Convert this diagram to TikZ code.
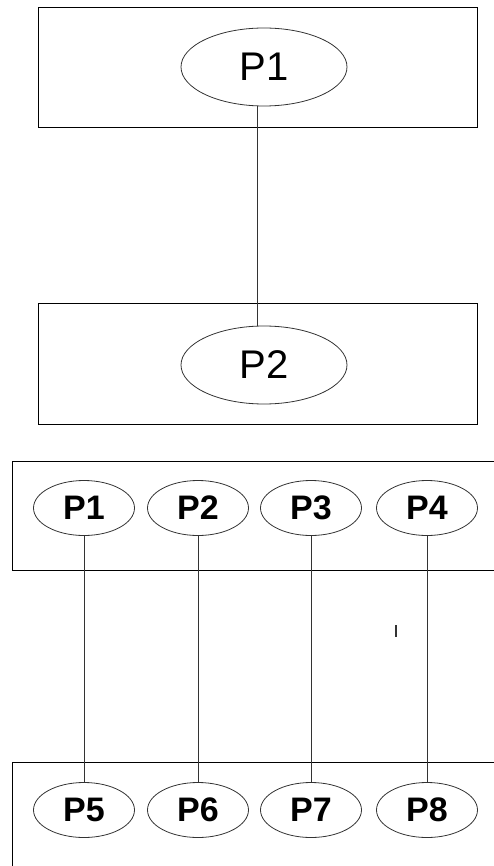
\documentclass[tikz,border=0pt]{standalone}
\usepackage{fontspec}
\setmainfont{Liberation Sans}
\usetikzlibrary{shapes.geometric}

\begin{document}
\begin{tikzpicture}[x=1pt, y=-1pt,
    bigproc/.style={ellipse, draw=black!80, line width=0.8pt, minimum width=166pt, minimum height=78pt, inner sep=0pt, font=\fontsize{40}{40}\selectfont},
    smallproc/.style={ellipse, draw=black!80, line width=0.8pt, minimum width=101pt, minimum height=55pt, inner sep=0pt, font=\fontsize{34}{34}\selectfont\bfseries},
    frame/.style={draw=black, line width=1pt},
    link/.style={draw=black!80, line width=1pt}]

    \clip (0,0) rectangle (494,866);

    % single pair
    \begin{scope}
        \draw [frame] (38,8) rectangle (477,128);
        \draw [frame] (38,303) rectangle (477,424);

        \node [bigproc] (s1) at (264,67) {P1};
        \node [bigproc] (s2) at (264,365) {P2};

        \draw [link] ([xshift=-7pt]s1.south) -- ([xshift=-7pt]s2.north);
    \end{scope}

    % four pairs
    \begin{scope}
        \draw [frame] (12,461) rectangle (500,570);
        \draw [frame] (12,762) rectangle (500,880);

        \foreach \i/\x in {1/84, 2/198, 3/311, 4/427}
            \node [smallproc] (p\i) at (\x,508) {P\i};
        \foreach \i/\x in {5/84, 6/198, 7/311, 8/427}
            \node [smallproc] (p\i) at (\x,810) {P\i};

        \foreach \a/\b in {1/5, 2/6, 3/7, 4/8}
            \draw [link] (p\a.south) -- (p\b.north);

        \draw [line width=1.2pt, black!80] (396,625) -- (396,637);
    \end{scope}

\end{tikzpicture}
\end{document}
